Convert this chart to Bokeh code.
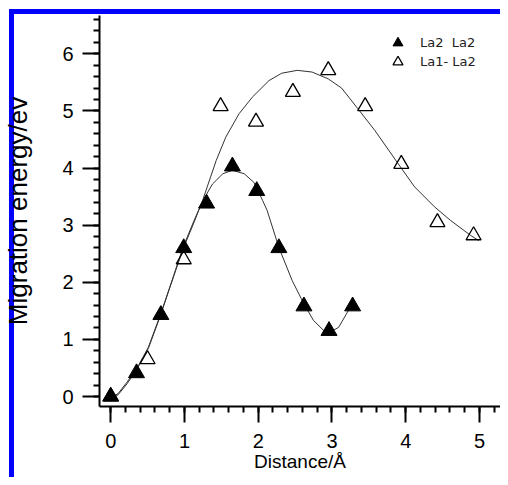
from bokeh.plotting import figure
from bokeh.models import Range1d, SingleIntervalTicker, Legend, LegendItem
from bokeh.embed import file_html
from bokeh.resources import INLINE

# La2-La2 points (filled triangles)
la22_x = [0, 0.35, 0.68, 0.99, 1.30, 1.65, 1.98, 2.28, 2.62, 2.96, 3.28]
la22_y = [0.0, 0.41, 1.43, 2.60, 3.38, 4.03, 3.60, 2.60, 1.58, 1.15, 1.58]
# La1-La2 points (open triangles)
la12_x = [0, 0.50, 0.99, 1.49, 1.97, 2.47, 2.95, 3.45, 3.94, 4.43, 4.92]
la12_y = [0.0, 0.65, 2.40, 5.08, 4.81, 5.33, 5.71, 5.08, 4.07, 3.05, 2.82]

# fitted curves
fit22_x = [0, 0.10, 0.22, 0.34, 0.51, 0.67, 0.80, 0.98, 1.13, 1.25, 1.38, 1.52, 1.65,
           1.81, 1.94, 2.06, 2.12, 2.28, 2.46, 2.62, 2.75, 2.885, 2.975, 3.09, 3.22, 3.28]
fit22_y = [-0.02, 0.05, 0.25, 0.46, 0.86, 1.42, 1.91, 2.61, 3.08, 3.43, 3.72, 3.90, 3.96,
           3.90, 3.75, 3.43, 3.26, 2.61, 2.03, 1.62, 1.33, 1.16, 1.13, 1.21, 1.50, 1.62]
fit12_x = [0, 0.10, 0.22, 0.34, 0.51, 0.67, 0.80, 0.98, 1.13, 1.245, 1.43, 1.56, 1.74, 1.92,
           2.145, 2.32, 2.53, 2.73, 2.95, 3.13, 3.35, 3.58, 3.895, 4.12, 4.39, 4.61, 4.88, 4.99]
fit12_y = [-0.05, 0.03, 0.22, 0.44, 0.84, 1.40, 1.90, 2.58, 3.05, 3.43, 4.13, 4.54, 4.95, 5.24,
           5.53, 5.66, 5.71, 5.68, 5.56, 5.40, 5.04, 4.66, 4.08, 3.67, 3.32, 3.08, 2.82, 2.73]

labels = ["La2  La2", "La1- La2"]

FONT = "Liberation Sans"

p = figure(width=500, height=477, output_backend="svg", toolbar_location=None,
           x_range=Range1d(-0.152, 5.285), y_range=Range1d(-0.175, 6.67),
           min_border_left=96, min_border_top=15, min_border_right=0, min_border_bottom=71)
p.border_fill_alpha = 0
p.outline_line_color = None
p.xgrid.visible = False
p.ygrid.visible = False
p.styles = {"box-shadow": "inset 9px 0 0 0 #ffffff, inset 0 9px 0 0 #ffffff, "
                          "inset 14px 0 0 0 #0000ff, inset 0 14px 0 0 #0000ff"}

for ax in (p.xaxis[0], p.yaxis[0]):
    ax.ticker = SingleIntervalTicker(interval=1, num_minor_ticks=5)
    ax.axis_line_width = 2
    ax.major_tick_line_width = 2
    ax.minor_tick_line_width = 2
    ax.major_tick_in = 0
    ax.minor_tick_in = 0
    ax.minor_tick_out = 6
    ax.major_label_text_font = FONT
    ax.major_label_text_font_size = "20px"
    ax.major_label_text_color = "black"
    ax.axis_label_text_font = FONT
    ax.axis_label_text_font_style = "normal"
    ax.axis_label_text_color = "black"

p.yaxis.major_tick_out = 17
p.yaxis.major_label_standoff = 9
p.yaxis.axis_label = "Migration energy/ev"
p.yaxis.axis_label_text_font_size = "26px"
p.yaxis.axis_label_standoff = 26

p.xaxis.major_tick_out = 16
p.xaxis.major_label_standoff = 11
p.xaxis.axis_label = "Distance/Å"
p.xaxis.axis_label_text_font_size = "19px"
p.xaxis.axis_label_standoff = 0

p.line(fit22_x, fit22_y, line_color="#333333", line_width=1)
p.line(fit12_x, fit12_y, line_color="#333333", line_width=1)

r12 = p.scatter(la12_x, la12_y, marker="triangle", size=15, fill_alpha=0,
                line_color="black", line_width=1.3)
r22 = p.scatter(la22_x, la22_y, marker="triangle", size=16, fill_color="black",
                line_color="black")

common = dict(glyph_width=25, glyph_height=25, label_standoff=10, padding=0, margin=0,
              border_line_alpha=0, background_fill_alpha=0,
              label_text_font="DejaVu Sans", label_text_font_size="13px",
              label_text_color="#222222")
p.add_layout(Legend(items=[LegendItem(label=labels[0], renderers=[r22])],
                    location=(286, 351), **common))
p.add_layout(Legend(items=[LegendItem(label=labels[1], renderers=[r12])],
                    location=(286, 332), **common))

open("out.html", "w").write(file_html(p, INLINE))
